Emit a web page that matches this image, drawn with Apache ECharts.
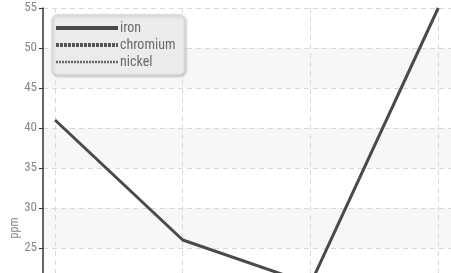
<!DOCTYPE html>
<html>
<head>
<meta charset="utf-8">
<script src="https://cdn.jsdelivr.net/npm/echarts@6/dist/echarts.min.js"></script>
<style>
  html, body { margin: 0; padding: 0; background: #fff; }
  #chart { width: 451px; height: 273px; }
</style>
</head>
<body>
<div id="chart"></div>
<script>
// x positions of the samples (axis labels sit below the visible area)
const samples = [0, 1, 2, 3];
const iron = [41, 26, 20.5, 55];
const chromium = [18, 16, 14, 19];
const nickel = [9, 8, 7, 10];
const yTicks = [0, 5, 10, 15, 20, 25, 30, 35, 40, 45, 50, 55];

const font = '"Roboto Condensed", "DejaVu Sans Condensed", "Liberation Sans Narrow", Roboto, sans-serif';

const chart = echarts.init(document.getElementById("chart"));

function pairs(values) {
    return samples.map((x, i) => [x, values[i]]);
}

chart.setOption({
    animation: false,
    grid: { left: 43, top: 8, height: 440, right: 0, outerBoundsMode: "none" },
    legend: {
        orient: "vertical",
        left: 52,
        top: 15,
        padding: [6, 9, 6, 2],
        itemWidth: 62,
        itemHeight: 12,
        itemGap: 3,
        backgroundColor: "#ececec",
        borderColor: "#d6d6d6",
        borderWidth: 1,
        borderRadius: 5,
        shadowColor: "rgba(0,0,0,0.25)",
        shadowBlur: 3,
        shadowOffsetX: 1,
        shadowOffsetY: 1,
        itemStyle: { opacity: 0 },
        textStyle: { color: "#6a6a6a", fontSize: 14, fontFamily: font, padding: [0, 0, 0, -3] },
        data: [
            { name: "iron", lineStyle: { width: 4 } },
            { name: "chromium", lineStyle: { width: 4, type: [3, 1] } },
            { name: "nickel", lineStyle: { width: 2.5, type: [2, 1] } }
        ]
    },
    xAxis: {
        type: "value",
        min: -0.094,
        max: 3.1,
        axisLine: { show: false },
        axisTick: { show: false, customValues: samples },
        axisLabel: { show: false, customValues: samples },
        splitLine: {
            show: true,
            lineStyle: { color: "#d8d8d8", type: [5, 4] }
        }
    },
    yAxis: {
        type: "value",
        min: yTicks[0],
        max: yTicks[yTicks.length - 1],
        interval: 5,
        name: "ppm",
        nameLocation: "middle",
        nameGap: 22,
        nameMoveOverlap: false,
        nameTextStyle: { color: "#888", fontSize: 12, fontFamily: font },
        axisLine: { show: true, onZero: false, lineStyle: { color: "#333", width: 1.5 } },
        axisTick: { show: true, length: 4, lineStyle: { color: "#333" } },
        axisLabel: { color: "#888", fontSize: 13, fontFamily: font, margin: 6 },
        splitLine: { show: true, lineStyle: { color: "#d8d8d8", type: [5, 4] } },
        splitArea: { show: true, areaStyle: { color: ["#ffffff", "#f7f7f7"] } }
    },
    series: [
        {
            name: "iron",
            type: "line",
            symbol: "none",
            data: pairs(iron),
            lineStyle: { color: "#4a4a4a", width: 3 },
            itemStyle: { color: "#4a4a4a" }
        },
        {
            name: "chromium",
            type: "line",
            symbol: "none",
            data: pairs(chromium),
            lineStyle: { color: "#555", width: 3, type: [3, 1] },
            itemStyle: { color: "#555" }
        },
        {
            name: "nickel",
            type: "line",
            symbol: "none",
            data: pairs(nickel),
            lineStyle: { color: "#666", width: 2, type: [2, 1] },
            itemStyle: { color: "#666" }
        }
    ]
});
</script>
</body>
</html>
